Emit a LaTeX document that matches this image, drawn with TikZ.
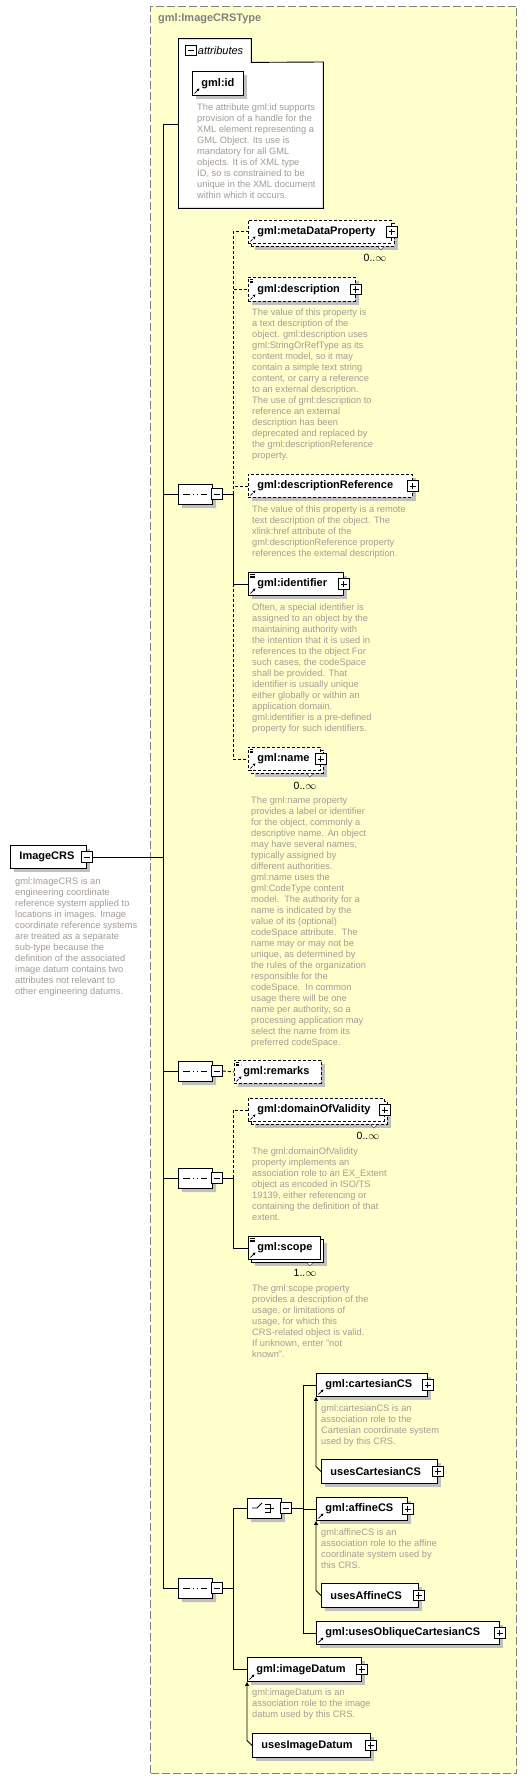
\documentclass[tikz,border=0pt]{standalone}
\usepackage{fontspec}
\setmainfont{Liberation Sans}
\usetikzlibrary{arrows.meta,positioning,shapes.misc,shadows}
\definecolor{Panel}{HTML}{FFFFCC}
\definecolor{PanelEdge}{HTML}{808080}
\definecolor{Shade}{HTML}{C0C0C0}
\definecolor{DocText}{HTML}{A29D95}
\definecolor{TitleText}{HTML}{808080}
\tikzset{
  >=Latex,
  shade/.style={drop shadow={shadow xshift=4pt,shadow yshift=-4pt,fill=Shade,opacity=1}},
  box/.style={rectangle,draw=black,fill=white,line width=.9pt,anchor=north west,inner xsep=9pt,inner ysep=0pt,align=left,font=\fontsize{11}{13}\selectfont\bfseries},
  elem/.style={box,shade},
  opt/.style={dash pattern=on 3pt off 2pt},
  ref/.style={path picture={
      \draw[line width=.7pt,-{Triangle[length=2.6pt,width=2.8pt]}] ([shift={(2pt,2pt)}]path picture bounding box.south west) -- ++(5,-5);}},
  refdoc/.style={path picture={
      \draw[line width=.7pt,-{Triangle[length=2.6pt,width=2.8pt]}] ([shift={(2pt,2pt)}]path picture bounding box.south west) -- ++(5,-5);
      \foreach \k in {0,1,2}
        \draw[line width=.6pt] ([shift={(1.5pt,{-1.8pt-1.7pt*\k})}]path picture bounding box.north west) -- ++(5,0);}},
  docn/.style={anchor=north west,inner sep=0pt,align=left,text=DocText,font=\fontsize{9.3}{11}\selectfont},
  card/.style={inner sep=0pt,font=\fontsize{10.5}{12}\selectfont},
  link/.style={draw=black,line width=.9pt},
  optlink/.style={link,dash pattern=on 3pt off 2pt},
  subst/.style={link,line width=.8pt,-{Triangle[length=4pt,width=4pt]}},
  notch/.style={draw=black!70,fill=white,line width=.6pt},
  pmbox/.style={rectangle,draw=black,fill=white,line width=1pt,minimum size=10.5pt,inner sep=0pt},
  plusbox/.style={pmbox,path picture={
      \draw[line width=.9pt] ([xshift=2pt]path picture bounding box.west) -- ([xshift=-2pt]path picture bounding box.east)
        ([yshift=2pt]path picture bounding box.south) -- ([yshift=-2pt]path picture bounding box.north);}},
  minusbox/.style={pmbox,path picture={
      \draw[line width=.9pt] ([xshift=2pt]path picture bounding box.west) -- ([xshift=-2pt]path picture bounding box.east);}},
  seqbase/.style={chamfered rectangle,chamfered rectangle xsep=5pt,chamfered rectangle ysep=5pt,draw=black,fill=white,
    line width=.9pt,minimum width=34pt,minimum height=20pt,inner sep=0pt,shade},
  seq/.style={seqbase,path picture={
      \begin{scope}[shift={(path picture bounding box.center)}]
        \draw[line width=.8pt] (-12,0) -- (12,0);
        \foreach \dx in {-4,0,4} \fill (\dx,0) +(-1.5,-1.5) rectangle +(1.5,1.5);
      \end{scope}}},
  choice/.style={seqbase,path picture={
      \begin{scope}[shift={(path picture bounding box.center)},line width=.8pt]
        \draw (-12,0) -- (-7,0) -- (-2,-5);
        \foreach \dy in {-4,0,4} \fill (1,\dy) +(-1.4,-1.4) rectangle +(1.4,1.4);
        \draw (1,-4) -- (6,-4) -- (6,4) -- (1,4) (1,0) -- (10,0);
      \end{scope}}},
  typepanel/.style={rectangle,anchor=north west,draw=PanelEdge,fill=Panel,line width=1pt,dash pattern=on 8pt off 3pt,inner sep=0pt},
  title/.style={anchor=west,inner sep=0pt,text=TitleText,font=\fontsize{11}{13}\selectfont\bfseries},
  attrpart/.style={rectangle,anchor=north west,fill=white,inner sep=0pt},
  attrlabel/.style={inner sep=0pt,font=\fontsize{11}{13}\selectfont\itshape},
  boxline/.style={draw=black,line width=.9pt}
}
\begin{document}
\begin{tikzpicture}[x=1pt,y=-1pt]
  \fill[white] (0,0) rectangle (527,1779);
  \useasboundingbox (0,0) rectangle (527,1779);
  % complex type
  \node[typepanel,minimum width=366pt,minimum height=1767pt] (ctype) at (150,6) {};
  \node[title] (ctitle) at (158,19) {gml:ImageCRSType};

  % attributes
  \node[attrpart,minimum width=72.5pt,minimum height=23.3pt] (attrt) at (178.5,38.7) {};
  \node[attrpart,minimum width=144.5pt,minimum height=146pt] (attrs) at (178.5,62) {};
  \draw[boxline] (attrt.north west) -- (attrt.north east) -- (attrt.south east) -- (attrs.north east)
    -- (attrs.south east) -- (attrs.south west) -- cycle;
  \node[minusbox] (attrm) at (191,50.5) {};
  \node[attrlabel,right=1pt of attrm] (attrl) {attributes};
  \node[elem,ref,text width=33pt,minimum height=24pt] (gid) at (192,71) {gml:id};
  \node[docn] (gidd) at (197,103.3) {The attribute gml:id supports\\provision of a handle for the\\XML element representing a\\GML Object. Its use is\\mandatory for all GML\\objects. It is of XML type\\ID, so is constrained to be\\unique in the XML document\\within which it occurs.};

  % root element
  \node[elem,text width=58pt,minimum height=23pt] (crs) at (10,845) {ImageCRS};
  \node[minusbox] (crsm) at (crs.east) {};
  \node[docn] (crsd) at (15,877.8) {gml:ImageCRS is an\\engineering coordinate\\reference system applied to\\locations in images. Image\\coordinate reference systems\\are treated as a separate\\sub-type because the\\definition of the associated\\image datum contains two\\attributes not relevant to\\other engineering datums.};

  % first sequence
  \node[seq] (seq1) at (195,494) {};
  \node[minusbox,anchor=west] (seq1m) at ([xshift=-1pt]seq1.east) {};
  \node[elem,opt,minimum width=143pt,minimum height=23pt] (metab) at (251,223) {};
  \node[box,opt,ref,text width=125pt,minimum height=23pt] (meta) at (248,220) {gml:metaDataProperty};
  \node[plusbox] (metap) at (meta.east) {};
  \draw[notch] ([xshift=-17pt]metab.south east) -- ++(3,3) -- ++(3,-3);
  \node[card] (metac) at (375,258) {0..$\infty$};
  \node[elem,opt,refdoc,text width=89pt,minimum height=24pt] (descr) at (248,277) {gml:description};
  \node[plusbox] (descrp) at (descr.east) {};
  \node[docn] (descrd) at (252,308.8) {The value of this property is\\a text description of the\\object. gml:description uses\\gml:StringOrRefType as its\\content model, so it may\\contain a simple text string\\content, or carry a reference\\to an external description.\\The use of gml:description to\\reference an external\\description has been\\deprecated and replaced by\\the gml:descriptionReference\\property.};
  \node[elem,opt,ref,text width=146pt,minimum height=23pt] (dref) at (248,474) {gml:descriptionReference};
  \node[plusbox] (drefp) at (dref.east) {};
  \node[docn] (drefd) at (252,505.8) {The value of this property is a remote\\text description of the object. The\\xlink:href attribute of the\\gml:descriptionReference property\\references the external description.};
  \node[elem,refdoc,text width=77pt,minimum height=23pt] (ident) at (248,572) {gml:identifier};
  \node[plusbox] (identp) at (ident.east) {};
  \node[docn] (identd) at (252,603.8) {Often, a special identifier is\\assigned to an object by the\\maintaining authority with\\the intention that it is used in\\references to the object For\\such cases, the codeSpace\\shall be provided. That\\identifier is usually unique\\either globally or within an\\application domain.\\gml:identifier is a pre-defined\\property for such identifiers.};
  \node[elem,opt,minimum width=72pt,minimum height=23pt] (nameb) at (251,750) {};
  \node[box,opt,refdoc,text width=54pt,minimum height=23pt] (name) at (248,747) {gml:name};
  \node[plusbox] (namep) at (name.east) {};
  \draw[notch] ([xshift=-17pt]nameb.south east) -- ++(3,3) -- ++(3,-3);
  \node[card] (namec) at (305,786) {0..$\infty$};
  \node[docn] (named) at (251,796.8) {The gml:name property\\provides a label or identifier\\for the object, commonly a\\descriptive name. An object\\may have several names,\\typically assigned by\\different authorities.\\gml:name uses the\\gml:CodeType content\\model.\ \ The authority for a\\name is indicated by the\\value of its (optional)\\codeSpace attribute.\ \ The\\name may or may not be\\unique, as determined by\\the rules of the organization\\responsible for the\\codeSpace.\ \ In common\\usage there will be one\\name per authority, so a\\processing application may\\select the name from its\\preferred codeSpace.};

  % second sequence
  \node[seq] (seq2) at (195,1071) {};
  \node[minusbox,anchor=west] (seq2m) at ([xshift=-1pt]seq2.east) {};
  \node[elem,opt,refdoc,text width=69pt,minimum height=23pt] (remarks) at (234,1060) {gml:remarks};

  % third sequence
  \node[seq] (seq3) at (195,1178) {};
  \node[minusbox,anchor=west] (seq3m) at ([xshift=-1pt]seq3.east) {};
  \node[elem,opt,minimum width=136pt,minimum height=23pt] (domainb) at (251,1101) {};
  \node[box,opt,ref,text width=118pt,minimum height=23pt] (domain) at (248,1098) {gml:domainOfValidity};
  \node[plusbox] (domainp) at (domain.east) {};
  \draw[notch] ([xshift=-17pt]domainb.south east) -- ++(3,3) -- ++(3,-3);
  \node[card] (domainc) at (368,1136) {0..$\infty$};
  \node[docn] (domaind) at (252,1147.8) {The gml:domainOfValidity\\property implements an\\association role to an EX\_Extent\\object as encoded in ISO/TS\\19139, either referencing or\\containing the definition of that\\extent.};
  \node[elem,minimum width=72pt,minimum height=23pt] (scopeb) at (251,1239) {};
  \node[box,refdoc,text width=54pt,minimum height=23pt] (scope) at (248,1236) {gml:scope};
  \draw[notch] ([xshift=-17pt]scopeb.south east) -- ++(3,3) -- ++(3,-3);
  \node[card] (scopec) at (305,1273) {1..$\infty$};
  \node[docn] (scoped) at (252,1284.8) {The gml:scope property\\provides a description of the\\usage, or limitations of\\usage, for which this\\CRS-related object is valid.\\If unknown, enter "not\\known".};

  % fourth sequence
  \node[seq] (seq4) at (195,1588) {};
  \node[minusbox,anchor=west] (seq4m) at ([xshift=-1pt]seq4.east) {};
  \node[choice] (choice) at (264,1508) {};
  \node[minusbox,anchor=west] (choicem) at ([xshift=-1pt]choice.east) {};
  \node[elem,ref,text width=93pt,minimum height=23pt] (cart) at (316,1373) {gml:cartesianCS};
  \node[plusbox] (cartp) at (cart.east) {};
  \node[docn] (cartd) at (321,1404.8) {gml:cartesianCS is an\\association role to the\\Cartesian coordinate system\\used by this CRS.};
  \node[elem,text width=98pt,minimum height=24pt] (ucart) at (321,1459) {usesCartesianCS};
  \node[plusbox] (ucartp) at (ucart.east) {};
  \node[elem,ref,text width=73pt,minimum height=23pt] (affine) at (316,1497) {gml:affineCS};
  \node[plusbox] (affinep) at (affine.east) {};
  \node[docn] (affined) at (321,1528.8) {gml:affineCS is an\\association role to the affine\\coordinate system used by\\this CRS.};
  \node[elem,text width=79pt,minimum height=24pt] (uaffine) at (321,1583) {usesAffineCS};
  \node[plusbox] (uaffinep) at (uaffine.east) {};
  \node[elem,ref,text width=165pt,minimum height=23pt] (oblique) at (316,1621) {gml:usesObliqueCartesianCS};
  \node[plusbox] (obliquep) at (oblique.east) {};
  \node[elem,ref,text width=96pt,minimum height=24pt] (imgdat) at (247,1657) {gml:imageDatum};
  \node[plusbox] (imgdatp) at (imgdat.east) {};
  \node[docn] (imgdatd) at (252,1688.8) {gml:imageDatum is an\\association role to the image\\datum used by this CRS.};
  \node[elem,text width=100pt,minimum height=24pt] (uimg) at (252,1733) {usesImageDatum};
  \node[plusbox] (uimgp) at (uimg.east) {};

  % trunk
  \coordinate (t0) at (163,124);
  \draw[link] (t0) -- (t0 -| attrs.west);
  \draw[link] (t0) |- (seq4.west);
  \draw[link] (crsm.east) -- (crsm.east -| t0);
  \draw[link] (seq1.west -| t0) -- (seq1.west);
  \draw[link] (seq2.west -| t0) -- (seq2.west);
  \draw[link] (seq3.west -| t0) -- (seq3.west);

  % branches
  \draw[link] (seq1m.east) -- ++(10.5,0) coordinate (b1);
  \draw[optlink] (b1) |- (meta.west);
  \draw[optlink] (b1) |- (descr.west);
  \draw[optlink] (b1) |- (dref.west);
  \draw[link] (b1) |- (ident.west);
  \draw[optlink] (ident.west -| b1) |- (name.west);
  \draw[optlink] (seq2m.east) -- (remarks.west);
  \draw[link] (seq3m.east) -- ++(10.5,0) coordinate (b3);
  \draw[optlink] (b3) |- (domain.west);
  \draw[link] (b3) |- (scope.west);
  \draw[link] (seq4m.east) -- ++(10.5,0) coordinate (b4);
  \draw[link] (b4) |- (choice.west);
  \draw[link] (b4) |- (imgdat.west);
  \draw[link] (choicem.east) -- ++(11.5,0) coordinate (c1);
  \draw[link] (c1) |- (cart.west);
  \draw[link] (c1) |- (affine.west);
  \draw[link] (c1) |- (oblique.west);

  % substitution groups
  \draw[subst] (ucart.west) -- ++(-5,-5) -- (cart.south west);
  \draw[subst] (uaffine.west) -- ++(-5,-5) -- (affine.south west);
  \draw[subst] (uimg.west) -- ++(-5,-5) -- (imgdat.south west);
\end{tikzpicture}
\end{document}
